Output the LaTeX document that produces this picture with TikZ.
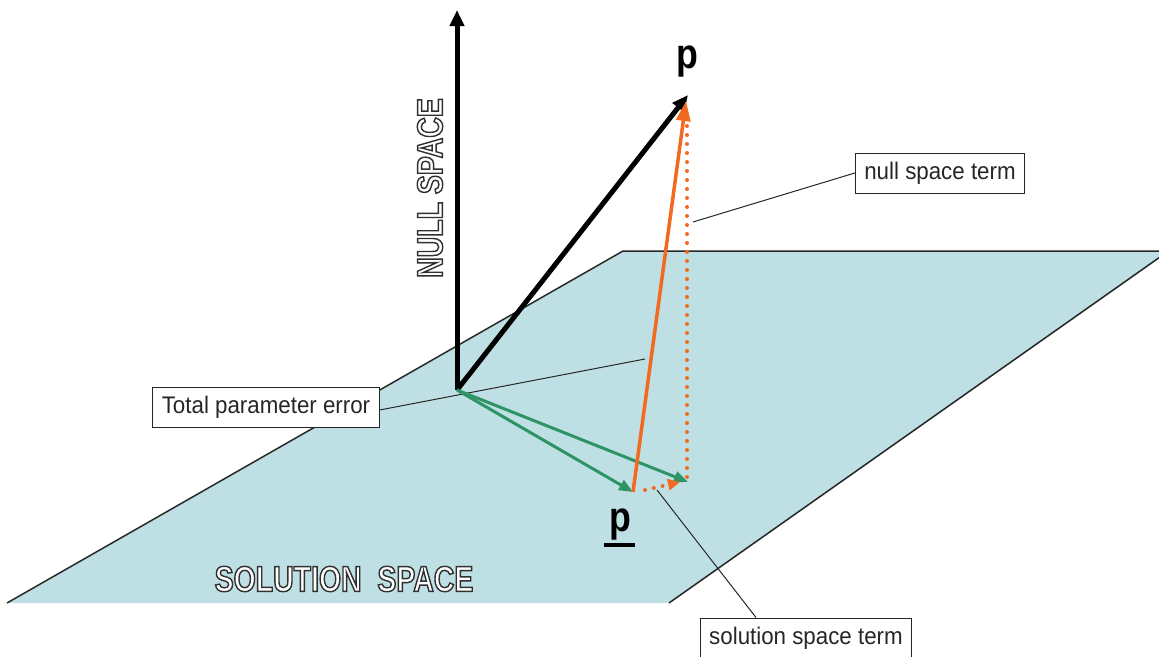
\documentclass[tikz,border=0pt]{standalone}
\usepackage{fontspec}
\setmainfont{Liberation Sans}
\newfontfamily\condf[FakeStretch=0.93]{Liberation Sans}
\newfontfamily\outf[FakeStretch=0.79]{Liberation Sans}
\newfontfamily\pfont[FakeStretch=0.85]{Liberation Sans}
\usetikzlibrary{arrows.meta}
\definecolor{plane}{HTML}{BEE0E4}
\definecolor{grn}{HTML}{2E9466}
\definecolor{org}{HTML}{F26A22}
\tikzset{
  labelbox/.style={draw=black!85, line width=1pt, fill=white, inner xsep=9pt, inner ysep=0pt, minimum height=40pt, font=\condf\fontsize{24}{26}\selectfont, text=black!85},
  leader/.style={draw=black!85, line width=1pt},
  bigarrow/.style={line width=5pt, -{Triangle[length=16pt,width=14pt]}},
  grnarrow/.style={draw=grn, line width=3pt, -{Triangle[length=14pt,width=11pt]}},
  orgarrow/.style={draw=org, line width=3.5pt, -{Triangle[length=20pt,width=14pt]}},
  orgdots/.style={draw=org, line width=4pt, line cap=round, dash pattern=on 0pt off 9pt},
  outtxt/.style={font=\outf\bfseries\fontsize{36}{38}\selectfont, inner sep=0pt},
  ptxt/.style={font=\pfont\bfseries\fontsize{42}{44}\selectfont, inner sep=0pt}
}
\newcommand\outlined[1]{\color{white}\special{pdf:code 0.19 0.19 0.19 RG 1.4 w 2 Tr}#1\special{pdf:code 0 Tr}}
\begin{document}
\begin{tikzpicture}[x=1pt,y=-1pt]
\useasboundingbox (0,0) rectangle (1159,656);
\begin{scope}
\clip (0,0) rectangle (1159,656);
% plane
\fill[plane] (7,603) -- (623,251) -- (1170,251) -- (669,603) -- cycle;
\draw[black!85, line width=1.5pt] (7,603) -- (623,251) -- (1170,251) (1160,257) -- (669,603) -- cycle;
\end{scope}
% coordinates
\coordinate (O) at (457,390);
\coordinate (top) at (457,10);
\coordinate (P) at (688,95);
\coordinate (Pu) at (633,492);
\coordinate (G2) at (688,482);
\coordinate (Ptip) at (686,101);
\coordinate (Vbot) at (687,477);
\coordinate (Vtop) at (687,122);
\coordinate (Hs) at (645,490);
\coordinate (He) at (680,482);
% outline labels
\node[outtxt, rotate=90] (ns) at (430,188) {\outlined{NULL SPACE}};
\node[outtxt] (ss) at (344,579) {\outlined{SOLUTION\ \ SPACE}};
% label boxes
\node[labelbox] (tpe) at (266,407) {Total parameter error};
\node[labelbox] (nst) at (940,173) {null space term};
\node[labelbox] (sst) at (806,638) {solution space term};
% leader lines
\coordinate (l1) at (645,359);
\coordinate (l2) at (693,222);
\coordinate (l3) at (657,490);
\draw[leader] (tpe.east) ++(0,-3pt) -- (l1);
\draw[leader] (nst.west) -- (l2);
\draw[leader] (sst.north) ++(-50pt,0) -- (l3);
% arrows
\draw[bigarrow] (O) -- (top);
\draw[bigarrow] (O) -- (P);
\draw[grnarrow] (O) -- (Pu);
\draw[grnarrow] (O) -- (G2);
\draw[orgdots] (Vbot) -- (Vtop);
\draw[orgdots, -{Triangle[length=12pt,width=11pt]}] (Hs) -- (He);
\draw[orgarrow] (Pu) -- (Ptip);
% p labels
\node[ptxt] (plab) at (687,62) {p};
\node[ptxt] (pul) at (620,525) {p};
\draw[line width=4.5pt] ([xshift=-5pt,yshift=-4pt]pul.south west) -- ([xshift=4pt,yshift=-4pt]pul.south east);
\end{tikzpicture}
\end{document}
